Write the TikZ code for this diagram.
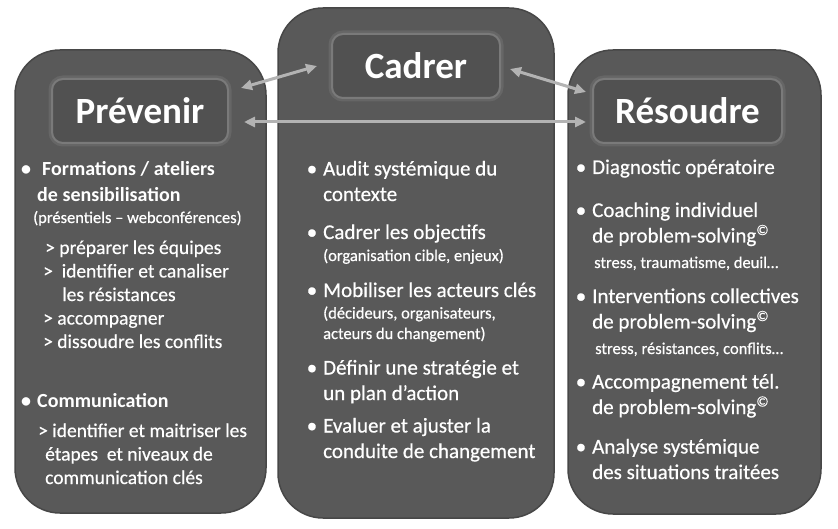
\documentclass[tikz,border=0pt]{standalone}
\usepackage{fontspec}
\setmainfont{Carlito}[UprightFeatures={FakeBold=0.5}]
\usetikzlibrary{arrows.meta, positioning, calc}
\definecolor{panelgray}{HTML}{595959}
\definecolor{rimgray}{HTML}{474747}
\definecolor{titlegray}{HTML}{515151}
\definecolor{glowgray}{HTML}{7A7A7A}
\definecolor{arrowgray}{HTML}{B3B3B3}
\newcommand{\bul}{\llap{\textbullet\hspace{6pt}}}
\newcommand{\psolv}{de problem-solving\textsuperscript{\textcopyright}}
\newcommand{\smalltxt}{\fontsize{16.5}{20}\selectfont}

\begin{document}
\begin{tikzpicture}[
    x=1pt, y=-1pt,
    panel/.style={fill=panelgray, draw=rimgray, line width=1.5pt, rounded corners=45pt},
    title/.style={rectangle, rounded corners=11pt, fill=titlegray, draw=glowgray, line width=2pt,
        preaction={draw=glowgray, line width=7pt, draw opacity=0.4},
        minimum height=64pt, text=white, font=\fontsize{37}{40}\selectfont\bfseries},
    item/.style={anchor=base west, align=left, inner sep=0pt, text=white, font=\fontsize{21}{25.5}\selectfont},
    subitem/.style={item, font=\fontsize{19.5}{23.5}\selectfont},
    link/.style={{Triangle[length=11pt,width=10pt]}-{Triangle[length=11pt,width=10pt]}, draw=arrowgray, line width=3pt}
]
\useasboundingbox (0,0) rectangle (838,529);

% === Panels ===
\path[panel] (15,50) rectangle (266,513);
\path[panel] (278,8) rectangle (554,518);
\path[panel] (568,50) rectangle (821,514);

% === Titles ===
\node[title, minimum width=176pt] (prev) at (140,111) {Prévenir};
\node[title, minimum width=168pt] (cadr) at (416,66) {Cadrer};
\node[title, minimum width=189pt] (reso) at (687.5,111) {Résoudre};

\draw[link] ([shift={(12,-23)}]prev.east) -- ([shift={(-14,0)}]cadr.west);
\draw[link] ([shift={(9,3)}]cadr.east) -- ([shift={(-6,-19)}]reso.west);
\draw[link] ([shift={(15,11)}]prev.east) -- ([shift={(-6,11)}]reso.west);

% === Prevenir (nodes sit on their last line) ===
\node[item, font=\fontsize{20}{26}\selectfont\bfseries] (form) at (37,223) {\bul\hspace{5pt}Formations / ateliers\\de sensibilisation\\[-5pt]{\mdseries\smalltxt\hspace{-4pt}(présentiels – webconférences)}};
\node[subitem] (formsub) at (43,348) {\hspace{2pt}> préparer les équipes\\>~~identifier et canaliser\\\hspace{19pt}les résistances\\> accompagner\\> dissoudre les conflits};

\node[item, font=\fontsize{20}{24}\selectfont\bfseries] (comm) at (37,407) {\bul Communication};
\node[subitem] (commsub) at (38,484) {> identifier et maitriser les\\\hspace{7pt}étapes~~et niveaux de\\\hspace{7pt}communication clés};

% === Cadrer ===
\node[item] (audit) at (323,201) {\bul Audit systémique du\\contexte};
\node[item] (obj) at (323,261) {\bul Cadrer les objectifs\\[-3.5pt]{\smalltxt (organisation cible, enjeux)}};
\node[item] (acteurs) at (323,339) {\bul Mobiliser les acteurs clés\\[-4pt]{\smalltxt (décideurs, organisateurs,}\\[-5pt]{\smalltxt acteurs du changement)}};
\node[item] (strat) at (323,400) {\bul Définir une stratégie et\\un plan d’action};
\node[item] (eval) at (323,458) {\bul Evaluer et ajuster la\\conduite de changement};

% === Resoudre ===
\node[item] (diag) at (592,174) {\bul Diagnostic opératoire};
\node[item] (coach) at (592,268) {\bul Coaching individuel\\\psolv\\{\smalltxt\hspace{2pt}stress, traumatisme, deuil…}};
\node[item] (interv) at (592,354) {\bul Interventions collectives\\\psolv\\{\smalltxt\hspace{3pt}stress, résistances, conflits…}};
\node[item] (tel) at (592,414) {\bul Accompagnement tél.\\\psolv};
\node[item] (analyse) at (592,479) {\bul Analyse systémique\\des situations traitées};

\end{tikzpicture}
\end{document}
